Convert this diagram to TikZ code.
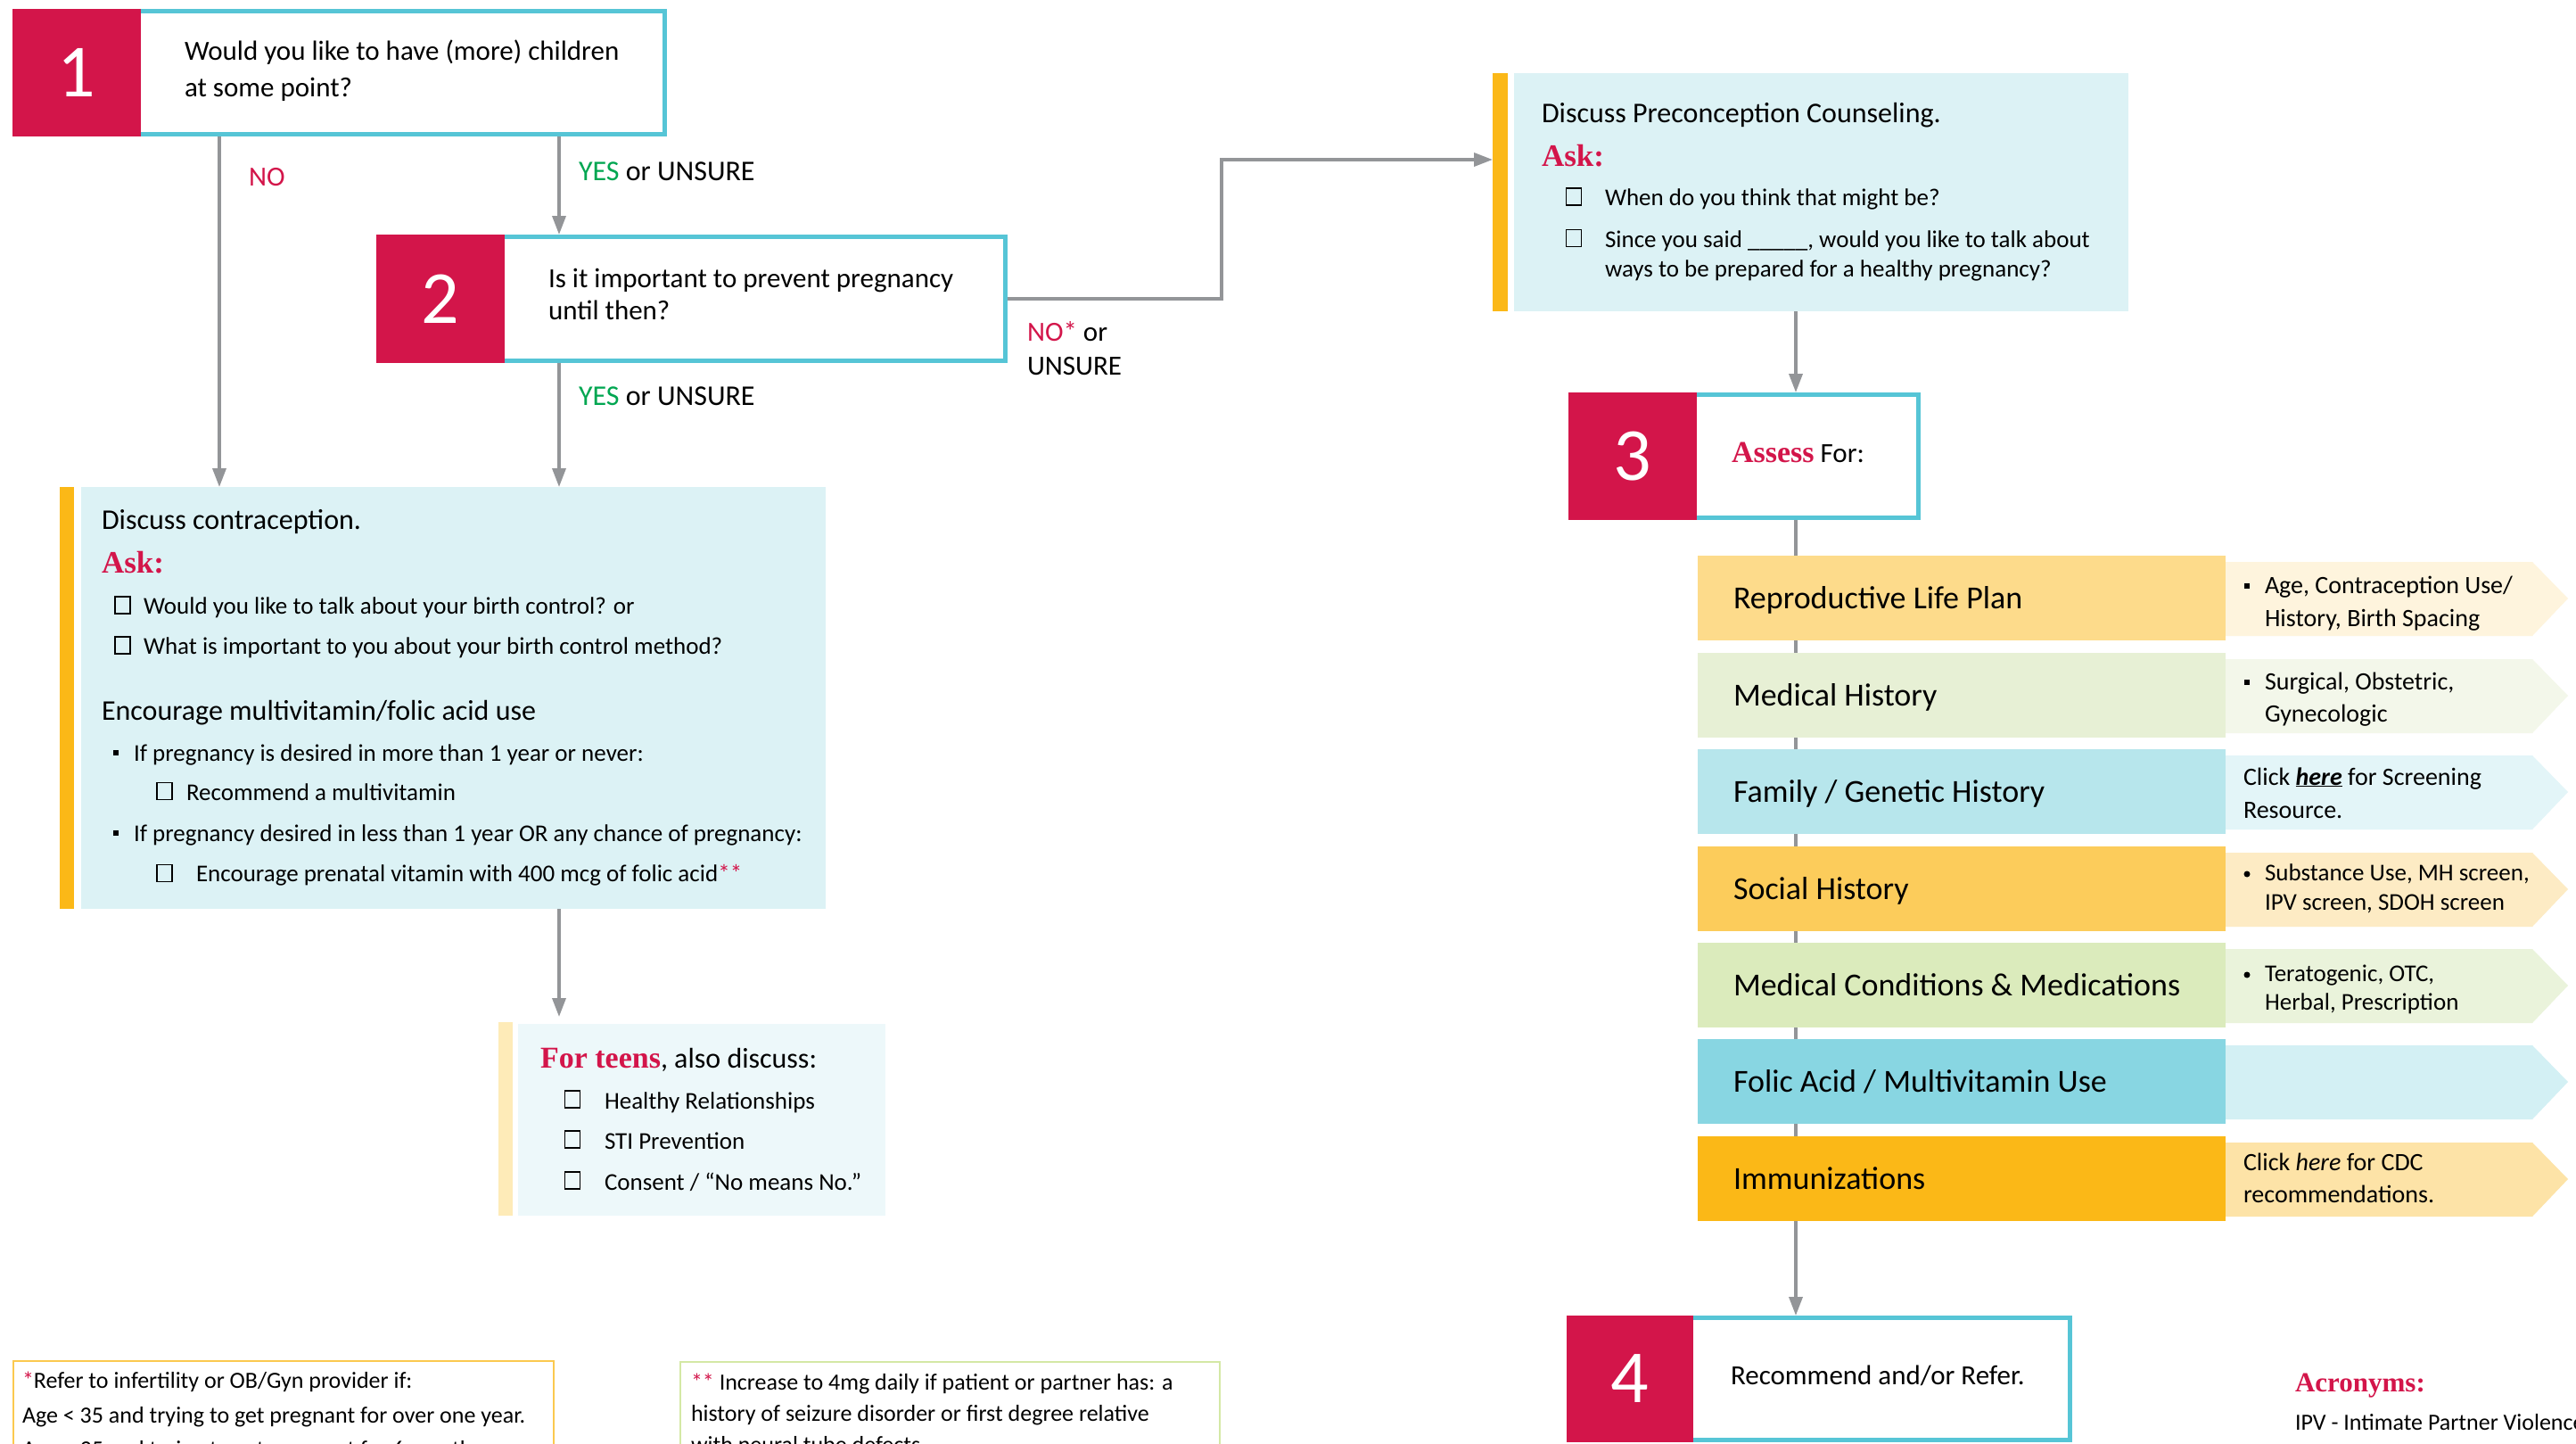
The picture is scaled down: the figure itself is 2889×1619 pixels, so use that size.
\documentclass[tikz,border=0pt]{standalone}
\usepackage{fontspec}
\setmainfont{Carlito}
\newfontfamily\srf{Liberation Serif}
\usetikzlibrary{arrows.meta,calc}
\definecolor{redc}{HTML}{D3154A}
\definecolor{cyanb}{HTML}{56C5D6}
\definecolor{greyc}{HTML}{939598}
\definecolor{greenc}{HTML}{00A651}
\definecolor{cfill}{HTML}{DCF2F5}
\definecolor{ybar}{HTML}{FBB817}
\definecolor{tbar}{HTML}{FEEBB8}
\definecolor{tfill}{HTML}{EDF8FA}
\definecolor{rAm}{HTML}{FDDB8B}\definecolor{rAs}{HTML}{FEF4DD}
\definecolor{rBm}{HTML}{E7F0D5}\definecolor{rBs}{HTML}{F3F7EA}
\definecolor{rCm}{HTML}{B7E6EC}\definecolor{rCs}{HTML}{E3F5F8}
\definecolor{rDm}{HTML}{FCCC5B}\definecolor{rDs}{HTML}{FDEBC4}
\definecolor{rEm}{HTML}{DBEBBC}\definecolor{rEs}{HTML}{EAF3DB}
\definecolor{rFm}{HTML}{88D6E2}\definecolor{rFs}{HTML}{D3F0F4}
\definecolor{rGm}{HTML}{FBB817}\definecolor{rGs}{HTML}{FDE3A7}
\definecolor{fa}{HTML}{FBC94F}
\definecolor{fb}{HTML}{D4E8A5}
\newcommand\fs[1]{\fontsize{#1}{#1}\selectfont}
\newcommand\arrowrow[5]{%
  \fill[#4] (2496,#2+7) -- (2840,#2+7) -- (2880,#2+48) -- (2840,#2+90) -- (2496,#2+90) -- cycle;
  \node[rowbox,fill=#3] (#1) at (2200,#2+47.5) {};
  \node[txt,font=\fs{36}] (#1t) at (1944,#2+59) {#5};
}
\begin{document}
\begin{tikzpicture}[x=1pt,y=-1pt,
  txt/.style={anchor=base west,inner sep=0pt,outer sep=0pt},
  numbox/.style={fill=redc,text=white,inner sep=0pt,font=\fs{84}},
  qbox/.style={draw=cyanb,fill=white,line width=5pt,inner sep=0pt},
  panel/.style={inner sep=0pt,outer sep=0pt},
  cb/.style={draw=black,line width=1.8pt,minimum width=17pt,minimum height=19pt,inner sep=0pt},
  sq/.style={fill=black,minimum size=6pt,inner sep=0pt},
  dot/.style={fill=black,circle,minimum size=7pt,inner sep=0pt},
  arr/.style={draw=greyc,line width=3.5pt,-{Triangle[length=21pt,width=15pt]}},
  rowbox/.style={minimum width=592pt,minimum height=95pt,inner sep=0pt,outer sep=0pt},
  foot/.style={fill=white,line width=2.5pt,inner sep=0pt}]
\useasboundingbox (0,0) rectangle (2889,1619);
\clip (0,0) rectangle (2889,1619);
\fill[white] (0,0) rectangle (2889,1619);

% ---------- question boxes ----------
\node[qbox,minimum width=593pt,minimum height=138pt] (q1box) at (449,81.5) {};
\node[numbox,minimum width=144pt,minimum height=143pt] (q1num) at (86,81.5) {1};
\node[txt,font=\fs{31}] (q1a) at (207,68) {Would you like to have (more) children};
\node[txt,font=\fs{31}] (q1b) at (207,108) {at some point?};

\node[qbox,minimum width=567pt,minimum height=139pt] (q2box) at (844,335) {};
\node[numbox,minimum width=144pt,minimum height=144pt] (q2num) at (494,335) {2};
\node[txt,font=\fs{31}] (q2a) at (615,322) {Is it important to prevent pregnancy};
\node[txt,font=\fs{31}] (q2b) at (615,358) {until then?};

\node[qbox,minimum width=254pt,minimum height=138pt] (q3box) at (2024.5,511.5) {};
\node[numbox,minimum width=144pt,minimum height=143pt] (q3num) at (1831,511.5) {3};
\node[txt,font=\fs{31}] (q3t) at (1942,518) {{\srf\bfseries\fs{34}\color{redc}Assess} For:};

\node[qbox,minimum width=428pt,minimum height=137pt] (q4box) at (2107.5,1546) {};
\node[numbox,minimum width=142pt,minimum height=142pt] (q4num) at (1828,1546) {4};
\node[txt,font=\fs{31}] (q4t) at (1941,1552) {Recommend and/or Refer.};

% ---------- contraception panel ----------
\node[panel,fill=cfill,minimum width=835pt,minimum height=473pt] (contra) at (508.5,782.5) {};
\node[panel,fill=ybar,minimum width=16pt,minimum height=473pt] (contrabar) at (75,782.5) {};
\node[txt,font=\fs{32}] (c1) at (114,593) {Discuss contraception.};
\node[txt,font=\fs{35}\srf\bfseries,text=redc] (c2) at (114,642) {Ask:};
\node[cb] (cb1) at (137.5,678.5) {};
\node[txt,font=\fs{27}] (c3) at (161,688) {Would you like to talk about your birth control? or};
\node[cb] (cb2) at (137.5,723.5) {};
\node[txt,font=\fs{27}] (c4) at (161,733) {What is important to you about your birth control method?};
\node[txt,font=\fs{32}] (c5) at (114,807) {Encourage multivitamin/folic acid use};
\node[sq] (b1) at (130,844) {};
\node[txt,font=\fs{27}] (c6) at (150,853) {If pregnancy is desired in more than 1 year or never:};
\node[cb] (cb3) at (184.5,887) {};
\node[txt,font=\fs{27}] (c7) at (209,897) {Recommend a multivitamin};
\node[sq] (b2) at (130,934) {};
\node[txt,font=\fs{27}] (c8) at (150,943) {If pregnancy desired in less than 1 year OR any chance of pregnancy:};
\node[cb] (cb4) at (184.5,979) {};
\node[txt,font=\fs{27}] (c9) at (220,988) {Encourage prenatal vitamin with 400 mcg of folic acid{\color{redc}**}};

% ---------- teens panel ----------
\node[panel,fill=tfill,minimum width=412pt,minimum height=215pt] (teens) at (787,1255.5) {};
\node[panel,fill=tbar,minimum width=16pt,minimum height=217pt] (teensbar) at (567,1254.5) {};
\node[txt,font=\fs{32}] (t0) at (606,1197) {{\srf\bfseries\fs{34}\color{redc}For teens}, also discuss:};
\node[cb] (cb7) at (642,1232.5) {};
\node[txt,font=\fs{27}] (t1) at (678,1243) {Healthy Relationships};
\node[cb] (cb8) at (642,1277.5) {};
\node[txt,font=\fs{27}] (t2) at (678,1288) {STI Prevention};
\node[cb] (cb9) at (642,1323.5) {};
\node[txt,font=\fs{27}] (t3) at (678,1334) {Consent / “No means No.”};

% ---------- preconception panel ----------
\node[panel,fill=cfill,minimum width=689pt,minimum height=267pt] (pre) at (2042.5,215.5) {};
\node[panel,fill=ybar,minimum width=17pt,minimum height=267pt] (prebar) at (1682.5,215.5) {};
\node[txt,font=\fs{32}] (p1) at (1729,137) {Discuss Preconception Counseling.};
\node[txt,font=\fs{35}\srf\bfseries,text=redc] (p2) at (1729,186) {Ask:};
\node[cb] (cb5) at (1765,220.5) {};
\node[txt,font=\fs{27}] (p3) at (1800,230) {When do you think that might be?};
\node[cb] (cb6) at (1765,267) {};
\node[txt,font=\fs{27}] (p4) at (1800,277) {Since you said \_\_\_\_\_, would you like to talk about};
\node[txt,font=\fs{27}] (p5) at (1800,310) {ways to be prepared for a healthy pregnancy?};

% ---------- connectors ----------
\coordinate (noX) at (246,0);
\coordinate (yesX) at (627,0);
\coordinate (elbX) at (1370,0);
\coordinate (preY) at (0,179);
\coordinate (c3X) at (2014,0);
\draw[arr] (noX |- q1box.south) -- (noX |- contra.north);
\draw[arr] (yesX |- q1box.south) -- (yesX |- q2box.north);
\draw[arr] (yesX |- q2box.south) -- (yesX |- contra.north);
\draw[arr,shorten >=8pt] (yesX |- contra.south) -- (yesX |- teens.north);
\draw[arr] (q2box.east) -- (elbX |- q2box.east) -- (elbX |- preY) -- (prebar.west |- preY);
\draw[arr] (c3X |- pre.south) -- (c3X |- q3box.north);
\draw[arr] (c3X |- q3box.south) -- (c3X |- q4box.north);

% connector labels
\node[txt,font=\fs{31},text=redc] (lno) at (279,208) {NO};
\node[txt,font=\fs{32}] (lyes1) at (649,202) {{\color{greenc}YES} or UNSURE};
\node[txt,font=\fs{32}] (lyes2) at (649,454) {{\color{greenc}YES} or UNSURE};
\node[txt,font=\fs{31}] (lnoa) at (1152,382) {{\color{redc}NO*} or};
\node[txt,font=\fs{31}] (lnob) at (1152,420) {UNSURE};

% ---------- assessment rows ----------
\arrowrow{rA}{623}{rAm}{rAs}{Reproductive Life Plan}
\arrowrow{rB}{732}{rBm}{rBs}{Medical History}
\arrowrow{rC}{840}{rCm}{rCs}{Family / Genetic History}
\arrowrow{rD}{949}{rDm}{rDs}{Social History}
\arrowrow{rE}{1057}{rEm}{rEs}{Medical Conditions \& Medications}
\arrowrow{rF}{1165}{rFm}{rFs}{Folic Acid / Multivitamin Use}
\arrowrow{rG}{1274}{rGm}{rGs}{Immunizations}

\node[sq] (sA) at (2519.5,657) {};
\node[txt,font=\fs{28}] (sA1) at (2540,665) {Age, Contraception Use/};
\node[txt,font=\fs{28}] (sA2) at (2540,702) {History, Birth Spacing};
\node[sq] (sB) at (2519.5,765) {};
\node[txt,font=\fs{28}] (sB1) at (2540,773) {Surgical, Obstetric,};
\node[txt,font=\fs{28}] (sB2) at (2540,809) {Gynecologic};
\node[txt,font=\fs{28}] (sC1) at (2516,880) {Click \underline{\textbf{\textit{here}}} for Screening};
\node[txt,font=\fs{28}] (sC2) at (2516,917) {Resource.};
\node[dot] (sD) at (2520,980) {};
\node[txt,font=\fs{27}] (sD1) at (2540,987) {Substance Use, MH screen,};
\node[txt,font=\fs{27}] (sD2) at (2540,1020) {IPV screen, SDOH screen};
\node[dot] (sE) at (2520,1093) {};
\node[txt,font=\fs{27}] (sE1) at (2540,1100) {Teratogenic, OTC,};
\node[txt,font=\fs{27}] (sE2) at (2540,1132) {Herbal, Prescription};
\node[txt,font=\fs{28}] (sG1) at (2516,1312) {Click \textit{here} for CDC};
\node[txt,font=\fs{28}] (sG2) at (2516,1348) {recommendations.};

% ---------- footnotes ----------
\node[foot,draw=fa,minimum width=606pt,minimum height=150pt] (f1) at (318,1601) {};
\node[txt,font=\fs{26}] (f1a) at (25,1556) {{\color{redc}*}Refer to infertility or OB/Gyn provider if:};
\node[txt,font=\fs{26}] (f1b) at (25,1595) {Age < 35 and trying to get pregnant for over one year.};
\node[txt,font=\fs{26}] (f1c) at (25,1633) {Age > 35 and trying to get pregnant for 6 months.};
\node[foot,draw=fb,minimum width=605pt,minimum height=150pt] (f2) at (1065.5,1602) {};
\node[txt,font=\fs{26}] (f2a) at (775,1558) {{\color{redc}**} Increase to 4mg daily if patient or partner has: a};
\node[txt,font=\fs{26}] (f2b) at (775,1593) {history of seizure disorder or first degree relative};
\node[txt,font=\fs{26}] (f2c) at (775,1628) {with neural tube defects.};

% ---------- acronyms ----------
\node[txt,font=\fs{31}\srf\bfseries,text=redc] (ac0) at (2574,1560) {Acronyms:};
\node[txt,font=\fs{26}] (ac1) at (2574,1603) {IPV - Intimate Partner Violence};
\end{tikzpicture}
\end{document}
